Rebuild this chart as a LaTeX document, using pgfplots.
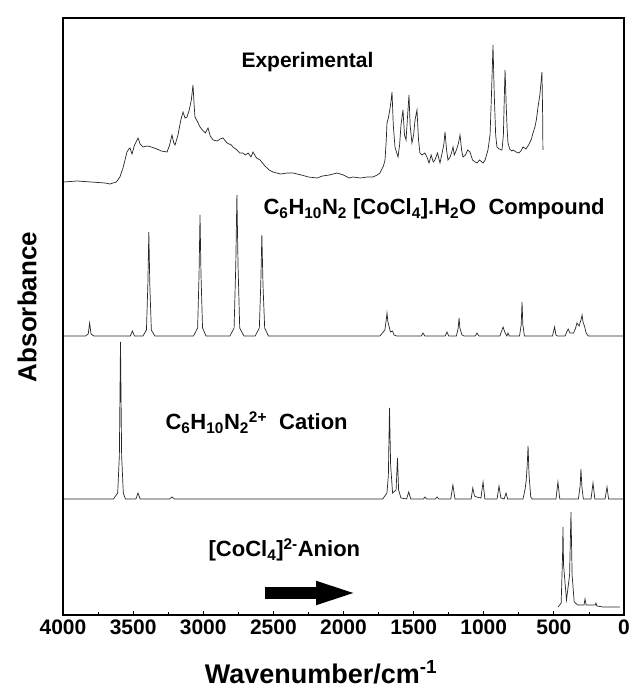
\documentclass[border=0pt]{standalone}
\usepackage{fontspec}
\setmainfont{Liberation Sans}
\usepackage{pgfplots}
\pgfplotsset{compat=1.18}
\usetikzlibrary{arrows.meta}
\begin{document}
\begin{tikzpicture}
\begin{axis}[name=ax, at={(0,0)}, anchor=south west,
  scale only axis, width=561pt, height=597pt,
  x dir=reverse, xmin=0, xmax=4000, ymin=0, ymax=597,
  xtick={0,500,...,4000}, minor x tick num=1, ytick=\empty,
  xtick pos=bottom, tick align=inside,
  major tick length=4pt, minor tick length=3pt,
  axis line style={line width=1.8pt},
  tick style={line width=0.8pt, black},
  /pgf/number format/assume math mode=true,
  /pgf/number format/set thousands separator={},
  xticklabel style={font=\fontsize{21}{24}\selectfont\bfseries, yshift=-1pt},
  xlabel={Wavenumber/cm\textsuperscript{-1}},
  xlabel style={font=\fontsize{27}{30}\selectfont\bfseries, at={(axis description cs:0.46,0)}, anchor=base, yshift=-68pt},
  ylabel={Absorbance},
  ylabel style={font=\fontsize{26}{30}\selectfont\bfseries, at={(axis description cs:-0.064,0.516)}, anchor=center},
  clip=false
]
% Experimental
\addplot[black!85, line width=0.7pt] coordinates {(3995,433)(3900,434)(3800,433)(3700,432)(3665,431)(3620,433)(3594,438)(3570,448)(3544,463)(3530,466)(3522,467)(3508,461)(3490,470)(3465,477)(3450,471)(3430,468)(3400,469)(3370,468)(3330,466)(3300,464)(3258,463)(3240,470)(3223,480)(3210,472)(3201,470)(3180,480)(3160,495)(3144,503)(3130,497)(3116,498)(3100,505)(3085,515)(3073,530)(3065,510)(3059,498)(3040,493)(3023,488)(3000,484)(2985,482)(2966,487)(2950,479)(2930,475)(2900,474)(2880,476)(2859,477)(2830,472)(2800,470)(2788,468)(2760,465)(2740,462)(2717,462)(2700,460)(2680,462)(2660,458)(2645,463)(2620,457)(2595,455)(2560,449)(2530,445)(2503,443)(2450,441)(2400,442)(2360,442)(2300,440)(2250,438)(2189,437)(2150,439)(2100,440)(2046,442)(2000,440)(1960,437)(1932,438)(1880,437)(1830,438)(1790,438)(1760,440)(1740,442)(1715,449)(1704,455)(1695,475)(1690,492)(1680,497)(1670,505)(1660,515)(1654,523)(1645,490)(1633,468)(1620,462)(1611,458)(1600,470)(1590,490)(1576,505)(1565,480)(1554,475)(1545,495)(1533,520)(1525,490)(1512,472)(1500,480)(1490,495)(1476,505)(1465,475)(1455,462)(1440,460)(1420,462)(1405,458)(1390,452)(1375,460)(1360,453)(1348,455)(1330,462)(1312,452)(1300,460)(1285,470)(1276,483)(1265,465)(1255,455)(1240,458)(1230,462)(1219,468)(1210,460)(1195,465)(1180,472)(1169,480)(1158,465)(1148,458)(1130,460)(1115,465)(1098,463)(1080,455)(1060,453)(1048,452)(1030,455)(1005,452)(990,455)(980,460)(970,465)(955,480)(945,520)(934,570)(925,520)(915,480)(906,468)(890,466)(870,465)(860,480)(853,520)(848,545)(840,510)(833,485)(827,472)(815,466)(800,464)(791,465)(770,463)(750,462)(735,464)(720,468)(700,466)(680,470)(660,476)(649,482)(635,488)(625,495)(613,508)(600,520)(590,535)(585,543)(580,500)(578,465)};
% Compound
\addplot[black!85, line width=0.7pt] coordinates {(4000,279)(3840,279)(3820,281)(3810,292)(3800,281)(3780,279)(3520,279)(3505,284)(3490,279)(3430,279)(3405,285)(3395,330)(3388,383)(3381,330)(3370,285)(3345,279)(3070,279)(3040,287)(3030,340)(3023,400)(3016,340)(3005,287)(2980,279)(2810,279)(2780,287)(2768,350)(2760,420)(2752,350)(2740,287)(2710,279)(2630,279)(2600,287)(2590,330)(2582,380)(2574,330)(2562,287)(2535,279)(1740,279)(1705,285)(1695,295)(1690,302)(1683,293)(1665,283)(1650,284)(1640,280)(1620,279)(1445,279)(1433,282)(1420,279)(1275,279)(1262,283)(1250,279)(1195,279)(1182,287)(1176,297)(1170,287)(1155,280)(1140,279)(1060,279)(1048,282)(1035,279)(885,279)(870,285)(862,288)(850,283)(835,279)(827,282)(818,279)(745,279)(733,290)(727,313)(721,290)(710,279)(510,279)(495,288)(485,280)(475,279)(420,279)(405,284)(398,286)(385,282)(360,282)(345,287)(335,292)(320,289)(305,296)(299,300)(292,293)(280,288)(270,282)(255,279)(0,279)};
% Cation
\addplot[black!85, line width=0.7pt] coordinates {(4000,116)(3640,116)(3610,122)(3598,160)(3590,273)(3582,160)(3570,122)(3555,116)(3480,116)(3465,122)(3450,116)(3240,116)(3223,118)(3205,116)(1720,116)(1690,122)(1680,140)(1672,207)(1664,150)(1650,122)(1625,125)(1615,157)(1607,125)(1590,117)(1550,116)(1535,123)(1520,116)(1430,116)(1419,118)(1408,116)(1345,116)(1333,118)(1320,116)(1235,116)(1220,130)(1205,116)(1090,116)(1078,127)(1066,119)(1050,118)(1020,117)(1005,133)(992,116)(905,116)(891,129)(878,117)(855,116)(841,122)(830,116)(720,116)(705,126)(697,135)(690,150)(684,169)(677,140)(665,118)(655,116)(485,116)(471,133)(458,116)(325,116)(312,130)(307,146)(300,128)(290,116)(235,116)(221,132)(208,116)(135,116)(121,128)(110,116)(0,116)};
% Anion
\addplot[black!85, line width=0.7pt] coordinates {(470,8)(448,12)(438,60)(435,88)(431,50)(410,15)(388,40)(378,103)(370,40)(355,13)(330,10)(285,10)(278,16)(270,10)(205,10)(200,12)(193,9)(150,8)(30,8)};
% labels
\node[anchor=base west, font=\fontsize{21}{24}\selectfont\bfseries] at (axis cs:2752,547) {Experimental};
\node[anchor=base west, font=\fontsize{22}{24}\selectfont\bfseries] at (axis cs:2595,400) {C\textsubscript{6}H\textsubscript{10}N\textsubscript{2} [CoCl\textsubscript{4}].H\textsubscript{2}O\ \ Compound};
\node[anchor=base west, font=\fontsize{22}{24}\selectfont\bfseries] at (axis cs:3294,185) {C\textsubscript{6}H\textsubscript{10}N\textsubscript{2}\textsuperscript{2+}\ \ Cation};
\node[anchor=base west, font=\fontsize{22}{24}\selectfont\bfseries] at (axis cs:2987,58) {[CoCl\textsubscript{4}]\textsuperscript{2-}Anion};
\draw[black, line width=11pt, -{Triangle[length=45pt, width=20pt]}] (axis cs:2560,22) -- (axis cs:1875,22);
\end{axis}
\path ([shift={(-63pt,-73pt)}]ax.south west) rectangle ([shift={(4pt,18pt)}]ax.north east);
\end{tikzpicture}
\end{document}
